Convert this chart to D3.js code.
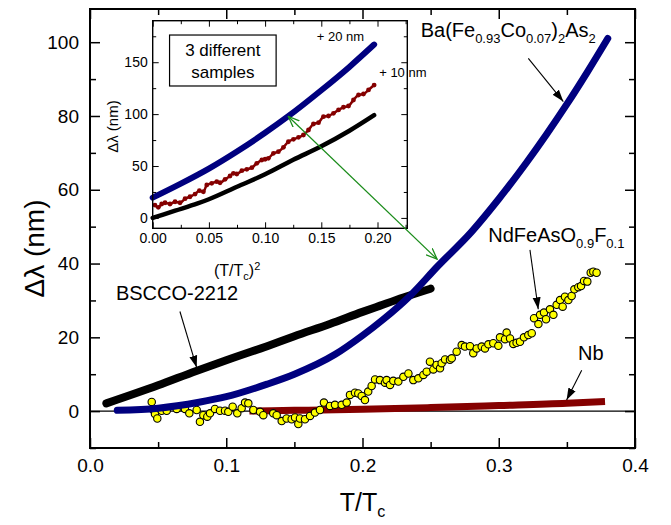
<!DOCTYPE html>
<html>
<head>
<meta charset="utf-8">
<script src="https://cdn.jsdelivr.net/npm/d3@7"></script>
<style>
  body { margin: 0; background: #fff; }
  svg { display: block; font-family: Arial, "Liberation Sans", sans-serif; }
</style>
</head>
<body>
<svg width="671" height="525"></svg>
<script>
// --- main plot data (T/Tc, delta lambda in nm) ---
const baT = [0.02, 0.05, 0.08, 0.10, 0.13, 0.15, 0.18, 0.20, 0.215, 0.235, 0.255, 0.28, 0.30, 0.32, 0.335, 0.35, 0.365, 0.38];
const baD = [0.2, 0.8, 2.4, 3.9, 7.3, 10.0, 15.4, 20.5, 24.8, 31.3, 39.2, 48.6, 57.5, 67.2, 75, 83.2, 91.9, 101];

const bsT = [0.012, 0.05, 0.078, 0.10, 0.13, 0.15, 0.176, 0.20, 0.213, 0.23, 0.25];
const bsD = [2.1, 7.0, 10.9, 13.8, 17.6, 20.3, 23.6, 26.9, 28.6, 30.8, 33.2];

const nbT = [0.117, 0.15, 0.20, 0.25, 0.30, 0.35, 0.378];
const nbD = [0.0, 0.2, 0.5, 0.95, 1.5, 2.1, 2.6];

const ndT = [0.0453, 0.0465, 0.0477, 0.0494, 0.0526, 0.0563, 0.0636, 0.0697, 0.0729, 0.0783,
  0.0807, 0.0832, 0.0861, 0.0881, 0.0917, 0.0954, 0.0991, 0.1015, 0.1047, 0.1081,
  0.1113, 0.1138, 0.1162, 0.1199, 0.1248, 0.1272, 0.1345, 0.137, 0.1407, 0.1443,
  0.148, 0.1505, 0.1529, 0.1541, 0.1578, 0.1615, 0.1651, 0.1688, 0.1717, 0.1761,
  0.1798, 0.1847, 0.1884, 0.1908, 0.1945, 0.1969, 0.1994, 0.2018, 0.2042, 0.2067,
  0.2092, 0.2128, 0.2165, 0.2177, 0.2202, 0.2226, 0.2263, 0.23, 0.2337, 0.2373,
  0.241, 0.2447, 0.2471, 0.2495, 0.252, 0.2544, 0.2569, 0.2581, 0.2606, 0.2642,
  0.2655, 0.2691, 0.2728, 0.2752, 0.2789, 0.2813, 0.2838, 0.2875, 0.2899, 0.2924,
  0.296, 0.2997, 0.3009, 0.3046, 0.3058, 0.3083, 0.3107, 0.3131, 0.3156, 0.3185,
  0.3217, 0.3242, 0.3259, 0.3291, 0.3303, 0.3332, 0.3347, 0.3376, 0.3401, 0.3425,
  0.345, 0.3469, 0.3486, 0.3511, 0.3535, 0.3555, 0.3584, 0.3604, 0.3626, 0.365,
  0.3675, 0.3694, 0.3718];
const ndD = [2.5, 0.3, -0.8, -2.0, 0.1, 0.1, 0.6, 0.6, -0.6, 0.3,
  -2.9, -1.1, -1.5, -0.6, 0.6, 0.1, 0.1, -0.2, 1.2, -0.6,
  0.8, 2.3, 2.1, 0.3, -0.2, -1.1, -0.6, -1.1, -2.7, -2.0,
  -2.2, -1.7, -3.5, -2.0, -2.2, -1.3, -0.4, 0.3, 2.3, 1.4,
  1.7, 1.7, 2.3, 4.4, 5.0, 4.8, 4.1, 3.0, 5.3, 6.8,
  8.6, 8.4, 7.7, 8.4, 7.1, 8.2, 8.0, 9.3, 10.2, 8.4,
  8.9, 9.8, 10.7, 13.4, 11.3, 12.5, 11.6, 13.0, 14.0, 13.9,
  14.3, 16.1, 17.9, 17.5, 17.6, 15.7, 17.0, 17.5, 17.0, 18.1,
  18.4, 17.7, 20.0, 19.5, 21.3, 19.7, 18.2, 18.5, 18.8, 20.0,
  20.6, 21.1, 25.2, 23.6, 26.1, 26.7, 24.9, 27.6, 26.1, 28.8,
  30.1, 28.3, 31.0, 30.1, 31.2, 33.0, 33.6, 33.9, 35.3, 35.1,
  37.5, 37.8, 37.5];

// --- inset data ((T/Tc)^2, delta lambda in nm) ---
const inBlueT = [0, 0.025, 0.05, 0.075, 0.10, 0.12, 0.15, 0.175, 0.197];
const inBlueD = [19.5, 33, 47.5, 64, 82, 97.5, 123, 145.5, 167];

const inRedT = [0.002, 0.005, 0.008, 0.011, 0.0154, 0.0199, 0.0243, 0.0288, 0.0332, 0.0377,
  0.0415, 0.0451, 0.0481, 0.0525, 0.057, 0.0599, 0.0644, 0.0688, 0.0718, 0.0748,
  0.0793, 0.0837, 0.0882, 0.0926, 0.0971, 0.1, 0.1029, 0.1074, 0.1118, 0.1163,
  0.1207, 0.1252, 0.1297, 0.1341, 0.1386, 0.143, 0.1475, 0.1519, 0.1564, 0.1608,
  0.1653, 0.1697, 0.1742, 0.1786, 0.1831, 0.1875, 0.192, 0.197];
const inRedD = [12.4, 10.2, 13.4, 14.6, 13.4, 15.6, 14.6, 18.5, 20.4, 23.0,
  26.2, 25.2, 31.7, 33.3, 34.9, 33.9, 37.2, 40.4, 43.0, 42.3,
  45.5, 46.8, 48.4, 52.6, 55.8, 56.5, 57.4, 62.2, 63.8, 68.0,
  73.4, 75.7, 77.6, 79.9, 84.7, 90.5, 91.8, 97.5, 98.2, 100.8,
  104.0, 106.6, 107.8, 113.6, 118.4, 119.4, 123.3, 128.0];

const inBlackT = [0, 0.02, 0.04, 0.05, 0.075, 0.10, 0.125, 0.15, 0.175, 0.197];
const inBlackD = [0, 7, 14, 18, 30, 42, 56, 69, 84, 99];

// --- axis ticks ---
const xMajor = [0, 0.1, 0.2, 0.3, 0.4];
const xMinor = [0.05, 0.15, 0.25, 0.35];
const yMajor = [0, 20, 40, 60, 80, 100];
const yMinor = [-10, 10, 30, 50, 70, 90];
const ixMajor = [0, 0.05, 0.10, 0.15, 0.20];
const ixMinor = [0.025, 0.075, 0.125, 0.175, 0.225];
const iyMajor = [0, 50, 100, 150];
const iyMinor = [25, 75, 125, 175];

const zip = (xs, ys) => xs.map((x, i) => [x, ys[i]]);

const svg = d3.select("svg");
const BLUE = "#00007f";
const RED = "#850000";

// -------------------------
// Main plot
// -------------------------
const x = d3.scaleLinear().domain([0, 0.4]).range([90, 635]);
const y = d3.scaleLinear().domain([-10, 109]).range([448, 9]);

function drawTicks(g, sx, sy, opts) {
	const { major, minor, majorY, minorY, big, small, font, pad, fmtX, fmtY } = opts;
	const [x0, x1] = sx.range();
	const [y0, y1] = sy.range();
	// bottom
	g.append("g").attr("transform", `translate(0,${y0})`)
		.call(d3.axisBottom(sx).tickValues(major).tickSize(-big).tickPadding(pad).tickFormat(fmtX));
	g.append("g").attr("transform", `translate(0,${y0})`)
		.call(d3.axisBottom(sx).tickValues(minor).tickSize(-small).tickFormat(""));
	// top
	g.append("g").attr("transform", `translate(0,${y1})`)
		.call(d3.axisTop(sx).tickValues(major).tickSize(-big).tickFormat(""));
	g.append("g").attr("transform", `translate(0,${y1})`)
		.call(d3.axisTop(sx).tickValues(minor).tickSize(-small).tickFormat(""));
	// left
	g.append("g").attr("transform", `translate(${x0},0)`)
		.call(d3.axisLeft(sy).tickValues(majorY).tickSize(-big).tickPadding(pad).tickFormat(fmtY));
	g.append("g").attr("transform", `translate(${x0},0)`)
		.call(d3.axisLeft(sy).tickValues(minorY).tickSize(-small).tickFormat(""));
	// right
	g.append("g").attr("transform", `translate(${x1},0)`)
		.call(d3.axisRight(sy).tickValues(majorY).tickSize(-big).tickFormat(""));
	g.append("g").attr("transform", `translate(${x1},0)`)
		.call(d3.axisRight(sy).tickValues(minorY).tickSize(-small).tickFormat(""));

	g.selectAll(".domain").remove();
	g.selectAll(".tick line").attr("stroke", "#000").attr("stroke-width", 1.5);
	g.selectAll(".tick text").attr("fill", "#000").attr("font-size", font)
		.attr("font-family", 'Arial, "Liberation Sans", sans-serif');
}

const main = svg.append("g");

// zero line
main.append("line")
	.attr("x1", x(0)).attr("x2", x(0.4))
	.attr("y1", y(0)).attr("y2", y(0))
	.attr("stroke", "#000").attr("stroke-width", 1.3);

drawTicks(main, x, y, {
	major: xMajor, minor: xMinor, majorY: yMajor, minorY: yMinor,
	big: 10, small: 6, font: 19, pad: 11,
	fmtX: d3.format(".1f"), fmtY: d3.format("d")
});

const lineMain = d3.line().x((d) => x(d[0])).y((d) => y(d[1])).curve(d3.curveMonotoneX);

// BSCCO-2212 (black band)
main.append("path").datum(zip(bsT, bsD))
	.attr("d", lineMain).attr("fill", "none")
	.attr("stroke", "#000").attr("stroke-width", 8).attr("stroke-linecap", "round");

// Nb (dark red band)
main.append("path").datum(zip(nbT, nbD))
	.attr("d", lineMain).attr("fill", "none")
	.attr("stroke", RED).attr("stroke-width", 7);

// NdFeAsO0.9F0.1 (yellow circles)
main.append("g").selectAll("circle")
	.data(zip(ndT, ndD))
	.join("circle")
	.attr("cx", (d) => x(d[0])).attr("cy", (d) => y(d[1]))
	.attr("r", 3.7)
	.attr("fill", "#ffff00").attr("stroke", "#000").attr("stroke-width", 1.1);

// Ba(Fe0.93Co0.07)2As2 (blue band)
main.append("path").datum(zip(baT, baD))
	.attr("d", lineMain).attr("fill", "none")
	.attr("stroke", BLUE).attr("stroke-width", 7).attr("stroke-linecap", "round");

// frame
main.append("rect")
	.attr("x", x(0)).attr("y", y(109))
	.attr("width", x(0.4) - x(0)).attr("height", y(-10) - y(109))
	.attr("fill", "none").attr("stroke", "#000").attr("stroke-width", 2);

// axis titles
svg.append("text")
	.attr("transform", `translate(44,${(y(109) + y(-10)) / 2 + 20}) rotate(-90)`)
	.attr("text-anchor", "middle").attr("font-size", 28)
	.text("Δλ (nm)");

const xt = svg.append("text")
	.attr("x", (x(0) + x(0.4)) / 2).attr("y", 511)
	.attr("text-anchor", "middle").attr("font-size", 25);
xt.append("tspan").text("T/T");
xt.append("tspan").attr("font-size", 16).attr("dy", 6).text("c");

// -------------------------
// Annotations (placed in data units)
// -------------------------
const defs = svg.append("defs");
defs.append("marker")
	.attr("id", "arrowBlack")
	.attr("viewBox", "0 -5 12 10").attr("refX", 12).attr("refY", 0)
	.attr("markerWidth", 12).attr("markerHeight", 10)
	.attr("markerUnits", "userSpaceOnUse").attr("orient", "auto")
	.append("path").attr("d", "M0,-4 L12,0 L0,4 Z").attr("fill", "#000");
defs.append("marker")
	.attr("id", "arrowGreen")
	.attr("viewBox", "0 -5 12 10").attr("refX", 11).attr("refY", 0)
	.attr("markerWidth", 12).attr("markerHeight", 10)
	.attr("markerUnits", "userSpaceOnUse").attr("orient", "auto-start-reverse")
	.append("path").attr("d", "M0,-4.5 L11,0 L0,4.5").attr("fill", "none")
	.attr("stroke", "#1a8c1a").attr("stroke-width", 1.3);

function subText(g, px, py, parts, big, small, shift) {
	const t = g.append("text").attr("x", px).attr("y", py).attr("font-size", big);
	let cur = 0;
	parts.forEach(([s, sub]) => {
		const want = sub ? shift * sub : 0;
		t.append("tspan")
			.attr("font-size", sub ? small : big)
			.attr("dy", want - cur)
			.text(s);
		cur = want;
	});
	return t;
}

function arrow(g, a, b, id, color) {
	g.append("line")
		.attr("x1", a[0]).attr("y1", a[1]).attr("x2", b[0]).attr("y2", b[1])
		.attr("stroke", color).attr("stroke-width", 1.1)
		.attr("marker-end", `url(#${id})`);
}

const ann = svg.append("g");
subText(ann, x(0.2427), y(101.3),
	[["Ba(Fe"], ["0.93", 1], ["Co"], ["0.07", 1], [")"], ["2", 1], ["As"], ["2", 1]], 20, 13, 6);
arrow(ann, [x(0.3217), y(95.6)], [x(0.3474), y(83.9)], "arrowBlack", "#000");

ann.append("text").attr("x", x(0.019)).attr("y", y(30.1)).attr("font-size", 20).text("BSCCO-2212");
arrow(ann, [x(0.066), y(27.0)], [x(0.0783), y(11.8)], "arrowBlack", "#000");

subText(ann, x(0.2923), y(45.9),
	[["NdFeAsO"], ["0.9", 1], ["F"], ["0.1", 1]], 20, 13, 6);
arrow(ann, [x(0.3229), y(43.7)], [x(0.329), y(27.6)], "arrowBlack", "#000");

ann.append("text").attr("x", x(0.3582)).attr("y", y(13.9)).attr("font-size", 20).text("Nb");
arrow(ann, [x(0.3609), y(11.1)], [x(0.3498), y(3.0)], "arrowBlack", "#000");

// -------------------------
// Inset
// -------------------------
const ix = d3.scaleLinear().domain([0, 0.2265]).range([152.7, 407.3]);
const iy = d3.scaleLinear().domain([-10, 190]).range([228.3, 20.7]);
const inset = svg.append("g");

inset.append("rect")
	.attr("x", ix(0)).attr("y", iy(190))
	.attr("width", ix(0.2265) - ix(0)).attr("height", iy(-10) - iy(190))
	.attr("fill", "#fff");

const lineIn = d3.line().x((d) => ix(d[0])).y((d) => iy(d[1])).curve(d3.curveMonotoneX);

inset.append("path").datum(zip(inBlackT, inBlackD))
	.attr("d", lineIn).attr("fill", "none")
	.attr("stroke", "#000").attr("stroke-width", 4.5).attr("stroke-linecap", "round");

inset.append("path").datum(zip(inRedT, inRedD))
	.attr("d", lineIn).attr("fill", "none")
	.attr("stroke", RED).attr("stroke-width", 2.5);
inset.append("g").selectAll("circle")
	.data(zip(inRedT, inRedD))
	.join("circle")
	.attr("cx", (d) => ix(d[0])).attr("cy", (d) => iy(d[1]))
	.attr("r", 2.4).attr("fill", RED);

inset.append("path").datum(zip(inBlueT, inBlueD))
	.attr("d", lineIn).attr("fill", "none")
	.attr("stroke", BLUE).attr("stroke-width", 6).attr("stroke-linecap", "round");

drawTicks(inset, ix, iy, {
	major: ixMajor, minor: ixMinor, majorY: iyMajor, minorY: iyMinor,
	big: 6, small: 3.5, font: 14, pad: 5,
	fmtX: d3.format(".2f"), fmtY: d3.format("d")
});
inset.selectAll(".tick line").attr("stroke-width", 1);

inset.append("rect")
	.attr("x", ix(0)).attr("y", iy(190))
	.attr("width", ix(0.2265) - ix(0)).attr("height", iy(-10) - iy(190))
	.attr("fill", "none").attr("stroke", "#000").attr("stroke-width", 1.4);

// legend-like box
inset.append("rect")
	.attr("x", ix(0.015)).attr("y", iy(176.2))
	.attr("width", ix(0.1098) - ix(0.015)).attr("height", iy(127.1) - iy(176.2))
	.attr("fill", "#fff").attr("stroke", "#000").attr("stroke-width", 1.2);
inset.append("text").attr("x", ix(0.0624)).attr("y", iy(156.3))
	.attr("text-anchor", "middle").attr("font-size", 17).text("3 different");
inset.append("text").attr("x", ix(0.0624)).attr("y", iy(135.2))
	.attr("text-anchor", "middle").attr("font-size", 17).text("samples");

inset.append("text").attr("x", ix(0.146)).attr("y", iy(170.9)).attr("font-size", 13).text("+ 20 nm");
inset.append("text").attr("x", ix(0.2015)).attr("y", iy(136.2)).attr("font-size", 13).text("+ 10 nm");

inset.append("text")
	.attr("transform", `translate(${118},${iy(88)}) rotate(-90)`)
	.attr("text-anchor", "middle").attr("font-size", 15)
	.text("Δλ (nm)");
subText(inset, 214, 276, [["(T/T"], ["c", 1], [")"], ["2", -1.6]], 16, 11, 4);

// green double arrow linking inset and main curve
svg.append("line")
	.attr("x1", ix(0.1207)).attr("y1", iy(97.7))
	.attr("x2", x(0.2547)).attr("y2", y(41.2))
	.attr("stroke", "#1a8c1a").attr("stroke-width", 1.2)
	.attr("marker-start", "url(#arrowGreen)")
	.attr("marker-end", "url(#arrowGreen)");
</script>
</body>
</html>
